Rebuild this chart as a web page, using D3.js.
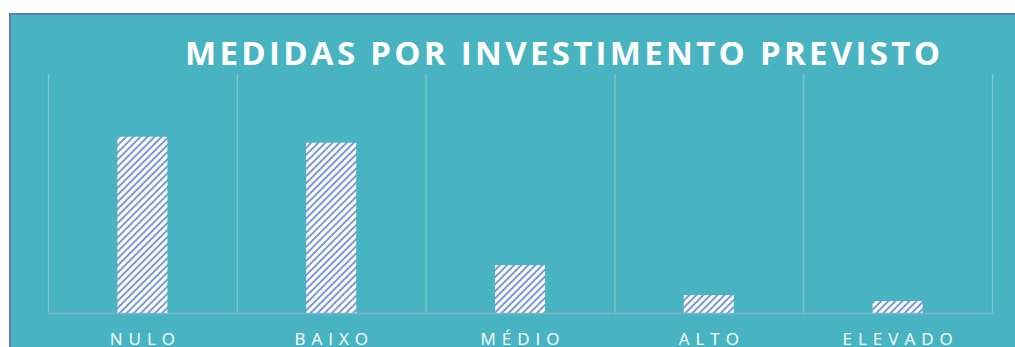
<!DOCTYPE html>
<html>
<head>
<meta charset="utf-8">
<script src="https://cdn.jsdelivr.net/npm/d3@7/dist/d3.min.js"></script>
<style>
  html, body { margin: 0; padding: 0; background: #ffffff; }
  svg { display: block; }
</style>
</head>
<body>
<svg id="chart" width="1015" height="347"></svg>
<script>
// Categories and counts of measures per planned investment level
const categories = ["NULO", "BAIXO", "MÉDIO", "ALTO", "ELEVADO"];
const values = [59, 57, 16, 6, 4];
const yDomain = [0, 80];
const title = "MEDIDAS POR INVESTIMENTO PREVISTO";

const svg = d3.select("#chart");
const W = 1015, H = 347;
const plot = { left: 48, right: 992, top: 74, bottom: 313 };

// Hatched fill for the bars (wide upward diagonal)
const defs = svg.append("defs");
const pat = defs.append("pattern")
  .attr("id", "hatch")
  .attr("patternUnits", "userSpaceOnUse")
  .attr("width", 5)
  .attr("height", 5)
  .attr("patternTransform", "rotate(45)");
pat.append("rect").attr("width", 5).attr("height", 5).attr("fill", "#ffffff");
pat.append("rect").attr("x", 0).attr("y", 0).attr("width", 2).attr("height", 5)
  .attr("fill", "#7C9AD5");

// Chart frame
svg.append("rect")
  .attr("x", 10).attr("y", 14)
  .attr("width", W + 20).attr("height", H + 20)
  .attr("fill", "#48B4C2")
  .attr("stroke", "#5A7EC0")
  .attr("stroke-width", 2);

// Scales
const xCat = d3.scaleBand().domain(categories).range([plot.left, plot.right]).padding(0);
const xBar = d3.scaleBand().domain(categories).range([plot.left, plot.right])
  .paddingInner(0.735).paddingOuter(0.3675);
const y = d3.scaleLinear().domain(yDomain).range([plot.bottom, plot.top]);

// Vertical category separators
const bounds = categories.map(c => xCat(c)).concat([plot.right]);
svg.append("g").selectAll("line").data(bounds).join("line")
  .attr("x1", d => d + 0.5).attr("x2", d => d + 0.5)
  .attr("y1", plot.top).attr("y2", plot.bottom)
  .attr("stroke", "#84C6D3")
  .attr("stroke-width", 1.2);

// Bars
svg.append("g").selectAll("rect").data(values).join("rect")
  .attr("x", (d, i) => xBar(categories[i]))
  .attr("width", xBar.bandwidth())
  .attr("y", d => y(d))
  .attr("height", d => y(0) - y(d))
  .attr("fill", "url(#hatch)");

// Category axis
const xAxis = svg.append("g")
  .attr("transform", `translate(0,${plot.bottom})`)
  .call(d3.axisBottom(xCat).tickSize(0).tickPadding(20));
xAxis.select(".domain")
  .attr("stroke", "#80B2CF")
  .attr("stroke-width", 1.5);
xAxis.selectAll("text")
  .attr("fill", "#ffffff")
  .attr("font-family", "'Open Sans', sans-serif")
  .attr("font-size", 17)
  .attr("letter-spacing", "6px")
  .attr("dx", "3px");

// Title
svg.append("text")
  .attr("x", 185)
  .attr("y", 65)
  .attr("textLength", 755)
  .attr("lengthAdjust", "spacing")
  .attr("fill", "#ffffff")
  .attr("font-family", "'Open Sans', sans-serif")
  .attr("font-weight", "bold")
  .attr("font-size", 33)
  .text(title);
</script>
</body>
</html>
